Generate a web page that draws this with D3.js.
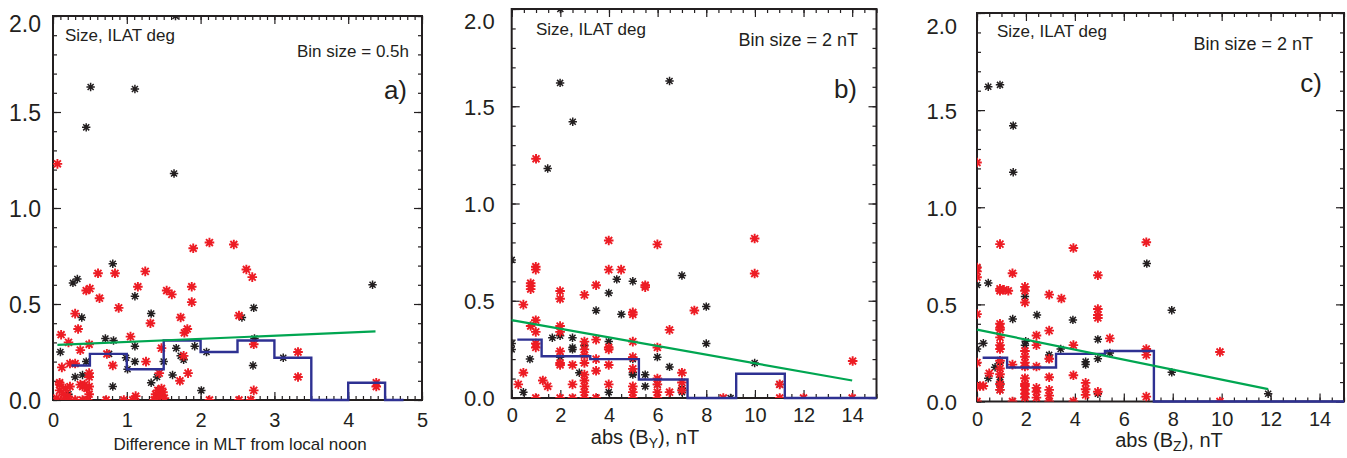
<!DOCTYPE html>
<html><head><meta charset="utf-8">
<script src="https://cdn.jsdelivr.net/npm/d3@7"></script>
<style>
body{margin:0;background:#fff}
svg{display:block}
text{font-family:"Liberation Sans",Arial,Helvetica,sans-serif;fill:#231f20}
</style>
</head><body>
<svg id="chart" width="1347" height="458"></svg>
<script>
// ---------------- DATA ----------------
// Panel a) : x = Difference in MLT from local noon (h), y = Size, ILAT deg
const aRed = [
 [0.06,1.23],
 [1.90,0.79],[2.12,0.82],[2.45,0.81],[2.62,0.68],[2.70,0.64],
 [0.61,0.66],[0.84,0.66],[1.25,0.67],[1.15,0.59],
 [0.45,0.57],[0.50,0.58],[0.63,0.53],[0.89,0.48],
 [0.30,0.45],[0.34,0.37],[0.11,0.34],[0.21,0.30],[0.37,0.26],[0.49,0.29],
 [0.12,0.17],[0.23,0.19],[0.30,0.19],[0.49,0.14],[0.49,0.12],
 [0.37,0.08],[0.40,0.07],[0.43,0.08],[0.46,0.06],[0.49,0.07],[0.49,0.03],
 [0.09,0.09],[0.09,0.08],[0.09,0.05],[0.17,0.06],[0.23,0.07],[0.14,0.03],[0.20,0.02],
 [0.05,0.01],[0.15,0.00],[0.22,0.00],[0.30,0.00],[0.40,0.00],[0.47,0.00],[0.72,0.00],[0.96,0.00],[1.12,0.02],[1.08,0.00],
 [0.81,0.18],[0.73,0.24],[1.05,0.33],[1.26,0.20],[1.32,0.40],[1.47,0.27],[1.44,0.14],
 [1.54,0.57],[1.61,0.55],[1.73,0.43],[1.82,0.37],[1.78,0.35],[1.88,0.59],[1.88,0.51],
 [1.77,0.23],[1.83,0.14],[1.72,0.10],
 [1.39,0.03],[1.42,0.05],[1.45,0.02],[1.49,0.04],[1.51,0.01],[1.37,0.00],[1.47,0.06],
 [2.12,0.00],[2.52,0.44],[2.72,0.29],[2.72,0.05],[2.68,0.00],[2.52,0.00],
 [3.32,0.25],[3.32,0.12],[4.38,0.09],[4.38,0.07]
];
const aBlack = [
 [0.51,1.63],[0.45,1.42],[1.11,1.62],[1.64,1.18],[1.66,2.00],
 [0.27,0.61],[0.33,0.63],[0.39,0.43],[0.81,0.71],[1.11,0.54],[1.33,0.45],
 [0.10,0.25],[0.21,0.03],[0.30,0.12],[0.40,0.13],[0.45,0.20],
 [0.71,0.32],[0.82,0.31],[0.81,0.07],[0.76,0.24],
 [0.99,0.22],[1.01,0.16],[1.11,0.28],[1.11,0.20],
 [1.33,0.09],[1.41,0.12],[1.44,0.05],[1.50,0.20],[1.62,0.13],
 [1.67,0.27],[1.73,0.23],[1.77,0.21],[1.92,0.28],[2.01,0.05],[2.08,0.25],
 [2.56,0.43],[2.72,0.48],[2.73,0.32],[2.71,0.18],[3.12,0.22],[4.33,0.60]
];
const aHistX = [0.25,0.75,1.25,1.75,2.25,2.75,3.25,3.75,4.25,4.75];
const aHistY = [0.18,0.24,0.16,0.31,0.25,0.31,0.22,0.00,0.09,0.00];
const aFitX = [0.06,4.37];
const aFitY = [0.287,0.357];
const aXTicks = [0,1,2,3,4,5];

// Panel b) : x = abs(BY), nT
const bRed = [
 [1.00,1.23],
 [0.48,0.48],[0.99,0.675],[0.99,0.66],[0.78,0.59],[0.78,0.575],[0.78,0.56],
 [0.99,0.40],[0.78,0.37],[0.99,0.34],[0.99,0.28],[0.99,0.26],
 [0.27,0.07],[0.48,0.13],[0.99,0.00],[1.28,0.09],[1.48,0.06],
 [1.99,0.55],[1.99,0.51],[1.99,0.37],[1.99,0.34],[1.99,0.24],[1.99,0.18],[1.99,0.17],[1.99,0.00],
 [2.50,0.17],[2.50,0.07],[2.50,0.00],
 [2.99,0.53],[2.99,0.29],[2.99,0.25],[2.99,0.22],[2.99,0.18],[2.99,0.12],[2.99,0.09],[2.99,0.06],[2.99,0.03],[2.99,0.00],
 [3.47,0.58],[3.47,0.30],[3.47,0.20],[3.47,0.14],[3.47,0.00],
 [3.99,0.81],[3.99,0.66],[3.99,0.26],[3.99,0.25],[3.99,0.17],[3.99,0.07],
 [4.50,0.66],
 [4.98,0.44],[4.98,0.43],[4.98,0.29],[4.98,0.21],[4.98,0.15],[4.98,0.06],[4.98,0.03],[4.98,0.00],
 [5.49,0.58],[5.49,0.57],
 [5.99,0.79],[5.99,0.26],[5.99,0.10],[5.99,0.07],[5.99,0.03],[5.99,0.00],
 [6.49,0.35],[6.49,0.03],
 [7.00,0.13],[7.00,0.08],[7.00,0.04],
 [7.51,0.45],[8.70,0.00],[9.99,0.82],[9.99,0.64],[11.02,0.07],[11.02,0.00],[12.00,0.00],[14.02,0.19],[14.00,0.00]
];
const bBlack = [
 [1.48,1.18],[1.99,1.62],[2.51,1.42],[6.49,1.63],[2.00,2.00],
 [0.00,0.71],[0.00,0.28],[0.00,0.25],[0.75,0.20],[0.48,0.03],
 [1.67,0.31],[1.99,0.32],[1.99,0.21],
 [2.50,0.31],[2.50,0.26],[2.50,0.25],[2.78,0.13],[2.99,0.27],
 [3.47,0.45],[3.99,0.54],[3.99,0.29],[3.99,0.03],[4.32,0.61],[4.51,0.43],
 [4.98,0.60],[4.98,0.20],[4.98,0.13],[4.98,0.12],
 [5.49,0.12],[5.49,0.06],[5.99,0.21],[5.99,0.07],[6.49,0.16],
 [7.00,0.63],[7.00,0.05],[7.00,0.03],[8.00,0.47],[8.00,0.28],[9.00,0.00],[9.99,0.18],[11.02,0.07]
];
const bHistX = [0.23,2.23,4.23,6.23,8.23,10.23,12.23,14.23,16.23];
const bHistY = [0.30,0.215,0.20,0.095,0.00,0.125,0.00,0.00,0.00];
const bFitX = [0.00,14.0];
const bFitY = [0.40,0.09];
const bXTicks = [0,2,4,6,8,10,12,14];

// Panel c) : x = abs(BZ), nT
const cRed = [
 [0.00,1.23],
 [0.94,0.81],[0.00,0.69],[0.00,0.67],[0.00,0.64],[0.00,0.45],[0.00,0.20],[0.00,0.076],[0.00,0.00],
 [0.12,0.08],[0.26,0.08],[0.50,0.145],
 [0.94,0.58],[0.94,0.57],[1.10,0.575],[1.28,0.57],
 [0.94,0.40],[0.94,0.38],[0.94,0.37],[0.94,0.33],[0.94,0.29],[0.94,0.27],
 [0.94,0.21],[0.94,0.17],[0.94,0.14],[0.94,0.09],[0.94,0.06],
 [1.45,0.66],[1.45,0.19],[1.45,0.00],
 [1.96,0.59],[1.96,0.57],[1.96,0.51],[1.96,0.26],[1.96,0.23],[1.96,0.20],[1.96,0.18],
 [1.96,0.12],[1.96,0.09],[1.96,0.08],[1.96,0.06],[1.96,0.04],[1.96,0.02],
 [2.43,0.34],[2.43,0.29],[2.43,0.18],[2.43,0.07],[2.43,0.05],[2.43,0.02],
 [2.95,0.55],[2.95,0.365],[2.95,0.22],[2.95,0.125],[2.95,0.06],[2.95,0.03],[2.95,0.00],
 [3.45,0.53],[3.94,0.79],[3.94,0.29],[3.94,0.135],[3.94,0.00],
 [4.44,0.096],[4.44,0.063],[4.44,0.034],
 [4.94,0.65],[4.94,0.476],[4.94,0.445],[4.94,0.43],[4.94,0.05],
 [5.43,0.325],[6.92,0.82],[6.92,0.27],[6.92,0.24],[6.92,0.025],[9.93,0.255],[9.93,0.00]
];
const cBlack = [
 [0.46,1.62],[0.94,1.63],[1.48,1.42],[1.48,1.18],
 [0.00,0.60],[0.46,0.61],[0.26,0.30],[0.00,0.27],[0.46,0.12],[0.74,0.176],
 [0.94,0.20],[0.94,0.125],[0.94,0.10],[0.94,0.085],[0.94,0.06],
 [1.46,0.425],[1.96,0.54],[1.96,0.29],[1.99,0.31],[1.96,0.025],
 [2.45,0.445],[2.95,0.24],[2.95,0.22],[3.42,0.27],[3.92,0.42],
 [4.44,0.205],[4.44,0.19],[4.94,0.32],[4.94,0.22],[4.94,0.04],[5.43,0.25],
 [6.94,0.71],[7.96,0.47],[7.96,0.15],[11.9,0.04]
];
const cHistX = [0.23,2.23,4.23,6.23,8.23,10.23,12.23,14.23,16.23];
const cHistY = [0.225,0.175,0.245,0.26,0.00,0.00,0.00,0.00,0.00];
const cFitX = [0.00,11.9];
const cFitY = [0.37,0.064];
const cXTicks = [0,2,4,6,8,10,12,14];

const yTicks = [0,0.5,1.0,1.5,2.0];
const panelTags = ["a)","b)","c)"];
const sizeLabel = "Size, ILAT deg";
const binLabels = ["Bin size = 0.5h","Bin size = 2 nT","Bin size = 2 nT"];

// ---------------- LAYOUT ----------------
const INK = "#231f20", RED = "#ed1c24", BLUE = "#2e3192", GREEN = "#00a651";
const panels = [
 {red:aRed, black:aBlack, hx:aHistX, hy:aHistY, fx:aFitX, fy:aFitY, xTicks:aXTicks, xDom:[0,5], xMinor:0.1,
  x0:53, x1:422, yb:400, yt:16, yLabSize:23, yGap:12, topShift:7, xGap:13,
  sizeX:65, sizeY:41, binX:409, binY:57, binSize:17, tagX:407, tagY:99,
  xlab:{type:"mlt", cx:240, y:450, size:17}},
 {red:bRed, black:bBlack, hx:bHistX, hy:bHistY, fx:bFitX, fy:bFitY, xTicks:bXTicks, xDom:[0,15], xMinor:0.5,
  x0:511.7, x1:876.5, yb:398, yt:9, yLabSize:22, yGap:17, topShift:12, xGap:10,
  sizeX:536, sizeY:35, binX:858, binY:46, binSize:18, tagX:857, tagY:98,
  xlab:{type:"b", sub:"Y", cx:645, y:444, size:20}},
 {red:cRed, black:cBlack, hx:cHistX, hy:cHistY, fx:cFitX, fy:cFitY, xTicks:cXTicks, xDom:[0,15], xMinor:0.5,
  x0:977, x1:1344, yb:401.5, yt:13, yLabSize:22, yGap:20, topShift:13, xGap:10,
  sizeX:997, sizeY:37, binX:1313, binY:50, binSize:18, tagX:1322, tagY:92,
  xlab:{type:"b", sub:"Z", cx:1169, y:447, size:20}}
];

const svg = d3.select("#chart");
const defs = svg.append("defs");

function asterisk(r){
  const p = d3.path(), d = r*0.72;
  p.moveTo(-r,0); p.lineTo(r,0);
  p.moveTo(0,-r); p.lineTo(0,r);
  p.moveTo(-d,-d); p.lineTo(d,d);
  p.moveTo(-d,d); p.lineTo(d,-d);
  return p.toString();
}

panels.forEach((P,i)=>{
  const x = d3.scaleLinear().domain(P.xDom).range([P.x0,P.x1]);
  const y = d3.scaleLinear().domain([0,2]).range([P.yb,P.yt]);
  const g = svg.append("g");
  const cid = "clip"+i, lid = "lclip"+i;
  defs.append("clipPath").attr("id",cid).append("rect")
    .attr("x",P.x0).attr("y",P.yt).attr("width",P.x1-P.x0).attr("height",P.yb-P.yt);
  defs.append("clipPath").attr("id",lid).append("rect")
    .attr("x",P.x0).attr("y",P.yt).attr("width",P.x1-P.x0).attr("height",P.yb-P.yt+3);

  // axes
  const yMinor = d3.range(0,2.0001,0.1);
  const xMinor = d3.range(P.xDom[0],P.xDom[1]+1e-6,P.xMinor);
  const clean = s=>{s.select(".domain").remove(); s.selectAll("line").attr("stroke",INK).attr("stroke-width",1.2);};
  const yl = g.append("g").attr("transform",`translate(${P.x0},0)`)
    .call(d3.axisLeft(y).tickValues(yTicks).tickSize(-8).tickPadding(P.yGap).tickFormat(d3.format(".1f")));
  clean(yl);
  yl.selectAll("text").style("font-size",P.yLabSize+"px").attr("dy","0.36em")
    .filter(d=>d===2).attr("dy",(P.topShift/P.yLabSize+0.36)+"em");
  g.append("g").attr("transform",`translate(${P.x0},0)`)
    .call(d3.axisLeft(y).tickValues(yMinor).tickSize(-4).tickFormat("")).call(clean);
  g.append("g").attr("transform",`translate(${P.x1},0)`)
    .call(d3.axisRight(y).tickValues(yTicks).tickSize(-8).tickFormat("")).call(clean);
  g.append("g").attr("transform",`translate(${P.x1},0)`)
    .call(d3.axisRight(y).tickValues(yMinor).tickSize(-4).tickFormat("")).call(clean);
  const xb = g.append("g").attr("transform",`translate(0,${P.yb})`)
    .call(d3.axisBottom(x).tickValues(P.xTicks).tickSize(-8).tickPadding(P.xGap).tickFormat(d3.format("d")));
  clean(xb);
  xb.selectAll("text").style("font-size","20px");
  g.append("g").attr("transform",`translate(0,${P.yb})`)
    .call(d3.axisBottom(x).tickValues(xMinor).tickSize(-4).tickFormat("")).call(clean);
  g.append("g").attr("transform",`translate(0,${P.yt})`)
    .call(d3.axisTop(x).tickValues(P.xTicks).tickSize(-8).tickFormat("")).call(clean);
  g.append("g").attr("transform",`translate(0,${P.yt})`)
    .call(d3.axisTop(x).tickValues(xMinor).tickSize(-4).tickFormat("")).call(clean);

  // frame
  g.append("rect").attr("x",P.x0).attr("y",P.yt).attr("width",P.x1-P.x0).attr("height",P.yb-P.yt)
    .attr("fill","none").attr("stroke",INK).attr("stroke-width",2);

  // points
  const pts = g.append("g").attr("clip-path",`url(#${cid})`);
  pts.selectAll(".bk").data(P.black).join("path").attr("class","bk")
    .attr("d",asterisk(4.2)).attr("transform",d=>`translate(${x(d[0])},${y(d[1])})`)
    .attr("stroke",INK).attr("stroke-width",1.5).attr("fill","none");
  pts.selectAll(".rd").data(P.red).join("path").attr("class","rd")
    .attr("d",asterisk(4.8)).attr("transform",d=>`translate(${x(d[0])},${y(d[1])})`)
    .attr("stroke",RED).attr("stroke-width",1.9).attr("fill","none");

  // histogram (psym=10 style)
  const hist = P.hx.map((v,k)=>[v,P.hy[k]]);
  g.append("path").datum(hist).attr("clip-path",`url(#${lid})`)
    .attr("d",d3.line().x(d=>x(d[0])).y(d=>y(d[1])).curve(d3.curveStep))
    .attr("fill","none").attr("stroke",BLUE).attr("stroke-width",2.4);
  // fit line
  const fit = P.fx.map((v,k)=>[v,P.fy[k]]);
  g.append("path").datum(fit)
    .attr("d",d3.line().x(d=>x(d[0])).y(d=>y(d[1])))
    .attr("fill","none").attr("stroke",GREEN).attr("stroke-width",2.2);

  // texts
  g.append("text").attr("x",P.sizeX).attr("y",P.sizeY).style("font-size","17px").text(sizeLabel);
  g.append("text").attr("x",P.binX).attr("y",P.binY).attr("text-anchor","end").style("font-size",P.binSize+"px").text(binLabels[i]);
  g.append("text").attr("x",P.tagX).attr("y",P.tagY).attr("text-anchor","end").style("font-size","26px").text(panelTags[i]);

  const L = P.xlab;
  const t = g.append("text").attr("x",L.cx).attr("y",L.y).attr("text-anchor","middle").style("font-size",L.size+"px");
  if (L.type==="mlt") {
    t.text("Difference in MLT from local noon");
  } else {
    t.append("tspan").text("abs (B");
    t.append("tspan").attr("dy","0.3em").style("font-size",(L.size*0.7)+"px").text(L.sub);
    t.append("tspan").attr("dy","-0.21em").text("), nT");
  }
});
</script>
</body></html>
